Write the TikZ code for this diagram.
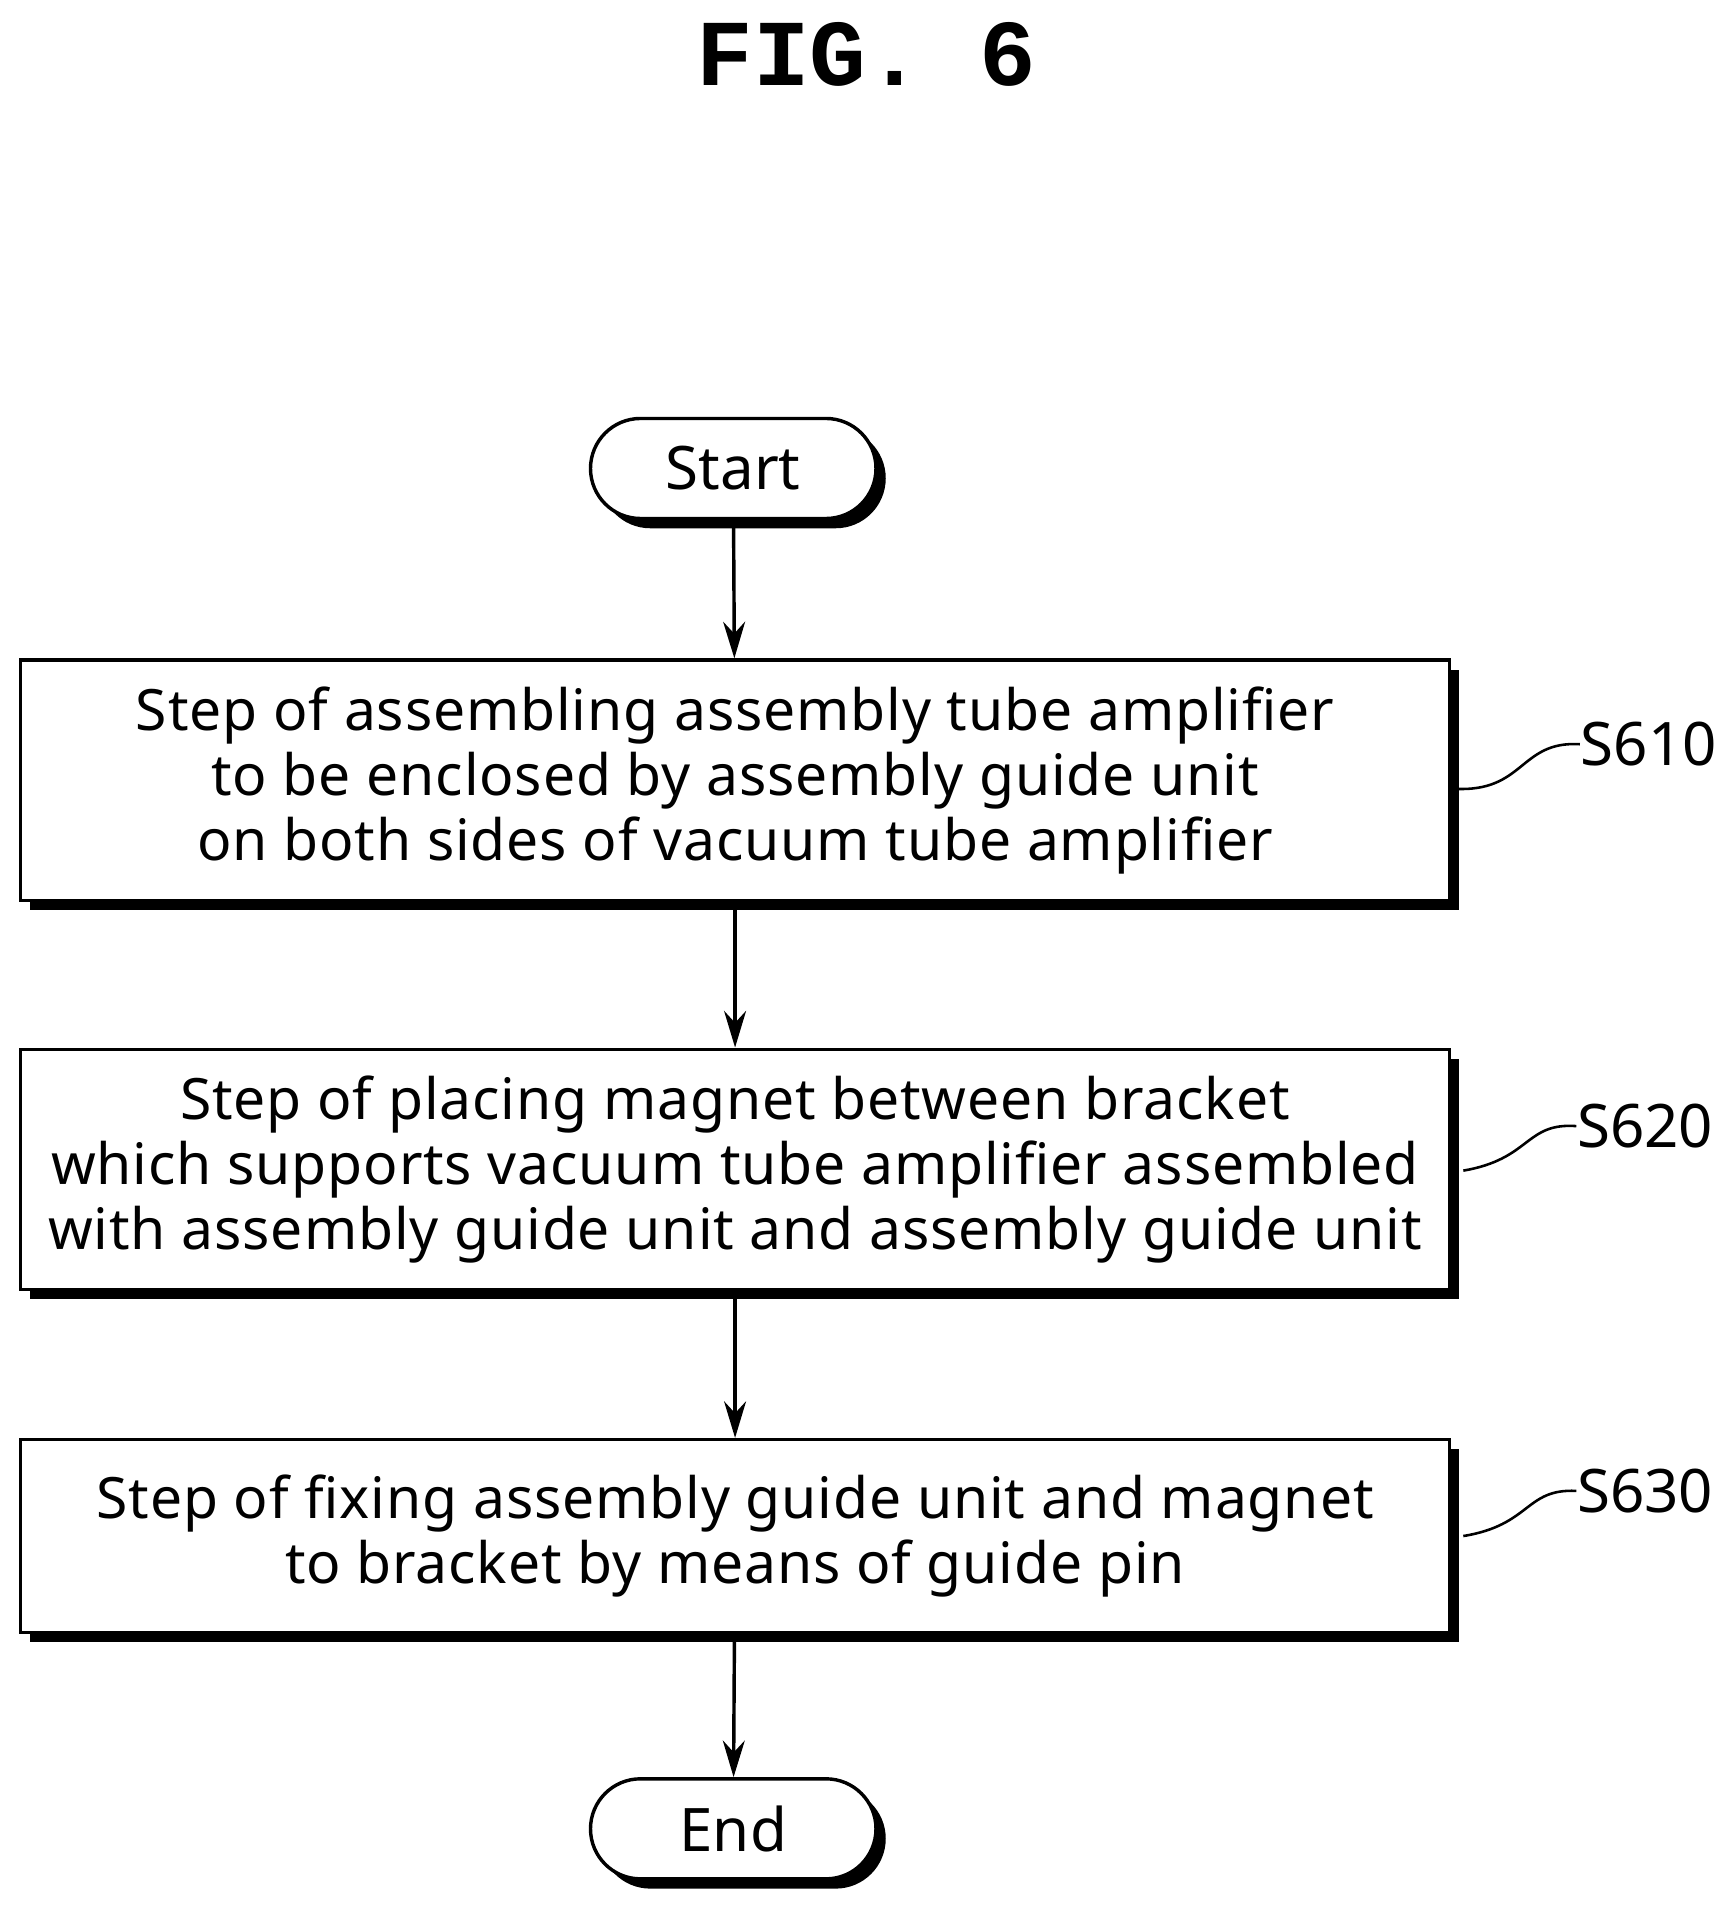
\documentclass[tikz,border=0pt]{standalone}
\usepackage{fontspec}
\setmainfont{Noto Sans}
\newfontfamily\figfont{Liberation Mono}
\usetikzlibrary{shapes, arrows.meta, positioning, shadows}

\begin{document}
\begin{tikzpicture}[node distance=1.5cm]
    \tikzstyle{startstop} = [rectangle, rounded corners=0.41cm, draw, line width=0.8pt, fill=white, minimum width=2.34cm, minimum height=0.82cm, text centered, font=\fontsize{14}{18}\selectfont, drop shadow={shadow xshift=0.08cm, shadow yshift=-0.08cm, opacity=1, fill=black}]
    \tikzstyle{process} = [rectangle, draw, line width=0.8pt, fill=white, align=center, inner xsep=0pt, minimum width=11.71cm, font=\fontsize{13.3}{15.2}\selectfont\addfontfeatures{LetterSpace=1.5}, drop shadow={shadow xshift=0.08cm, shadow yshift=-0.08cm, opacity=1, fill=black}]
    \tikzstyle{arrow} = [line width=0.8pt, -{Stealth[length=0.3cm, width=0.18cm]}]
    \tikzstyle{leader} = [line width=0.6pt]
    \tikzstyle{steplabel} = [font=\fontsize{14}{18}\selectfont, anchor=west, inner sep=0pt]

    \useasboundingbox (0,0) rectangle (14.2,-15.68);

    \node (title) at (7.1,-0.45) {\figfont\bfseries\fontsize{22}{24}\selectfont FIG. 6};

    \node (start) [startstop] at (6.01,-3.84) {Start};
    \node (s610) [process, minimum height=1.97cm] at (6.025,-6.395) {Step of assembling assembly tube amplifier\\ to be enclosed by assembly guide unit\\ on both sides of vacuum tube amplifier};
    \node (s620) [process, minimum height=1.97cm] at (6.025,-9.585) {Step of placing magnet between bracket\\ which supports vacuum tube amplifier assembled\\ with assembly guide unit and assembly guide unit};
    \node (s630) [process, minimum height=1.58cm] at (6.025,-12.59) {Step of fixing assembly guide unit and magnet\\ to bracket by means of guide pin};
    \node (end) [startstop] at (6.01,-14.99) {End};

    % Labels
    \node (l610) [steplabel] at (12.95,-6.1) {S610};
    \node (l620) [steplabel] at (12.92,-9.23) {S620};
    \node (l630) [steplabel] at (12.92,-12.22) {S630};
    \draw [leader] (s610.east) ++(0.02,-0.07) .. controls (12.5,-6.5) and (12.45,-6.07) .. (l610.west);
    \draw [leader] (s620.east) ++(0.1,-0.01) .. controls (12.55,-9.5) and (12.5,-9.2) .. (l620.west);
    \draw [leader] (s630.east) ++(0.1,0) .. controls (12.55,-12.5) and (12.5,-12.2) .. (l630.west);

    % Arrows
    \draw [arrow] (start) -- (s610);
    \draw [arrow] (s610) -- (s620);
    \draw [arrow] (s620) -- (s630);
    \draw [arrow] (s630) -- (end);
\end{tikzpicture}
\end{document}
